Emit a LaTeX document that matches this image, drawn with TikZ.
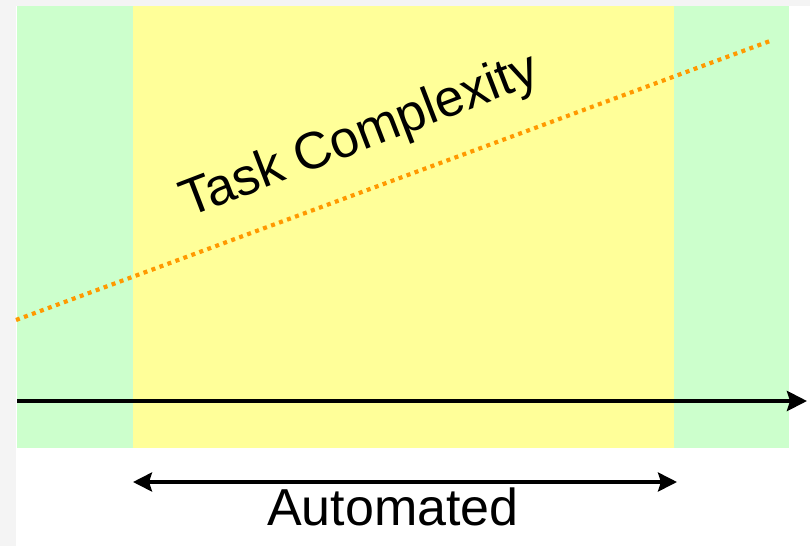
\documentclass[tikz,border=0pt]{standalone}
\usepackage{fontspec}
\setmainfont{Liberation Sans}
\usetikzlibrary{arrows.meta}
\definecolor{bggray}{HTML}{F4F4F4}
\definecolor{zonegreen}{HTML}{CCFFCC}
\definecolor{zoneyellow}{HTML}{FFFF99}
\definecolor{trendorange}{HTML}{FF9900}
\begin{document}
\begin{tikzpicture}[x=1pt,y=-1pt,
  bigtip/.style={-{Stealth[length=20pt,width=20pt,inset=3pt]}},
  dbltip/.style={{Stealth[length=19pt,width=19pt,inset=3pt]}-{Stealth[length=19pt,width=19pt,inset=3pt]}},
  bigtext/.style={font=\fontsize{52}{62}\selectfont, text=black, inner sep=0pt},
  trend/.style={trendorange, line width=4.2pt, dash pattern=on 4pt off 4.5pt}]
\fill[white] (0,0) rectangle (810,546);
\useasboundingbox (0,0) rectangle (810,546);
\fill[bggray] (0,0) rectangle (16,546);
\fill[bggray] (0,0) rectangle (810,6);
\fill[zonegreen] (17,6) rectangle (789,448);
\fill[zoneyellow] (133,6) rectangle (674,448);
\coordinate (trendstart) at (16,320);
\coordinate (trendend) at (770,41);
\draw[trend] (trendstart) -- (trendend);
\coordinate (axisstart) at (17,401);
\coordinate (axisend) at (807,401);
\draw[line width=4pt, bigtip] (axisstart) -- (axisend);
\coordinate (autoleft) at (133,482);
\coordinate (autoright) at (677,482);
\draw[line width=3.5pt, dbltip] (autoleft) -- (autoright);
\node[bigtext, anchor=base] (autolabel) at (393,525) {Automated};
\node[bigtext, rotate=21, anchor=base west] (tasklabel) at (188,218) {Task Complexity};
\end{tikzpicture}
\end{document}
